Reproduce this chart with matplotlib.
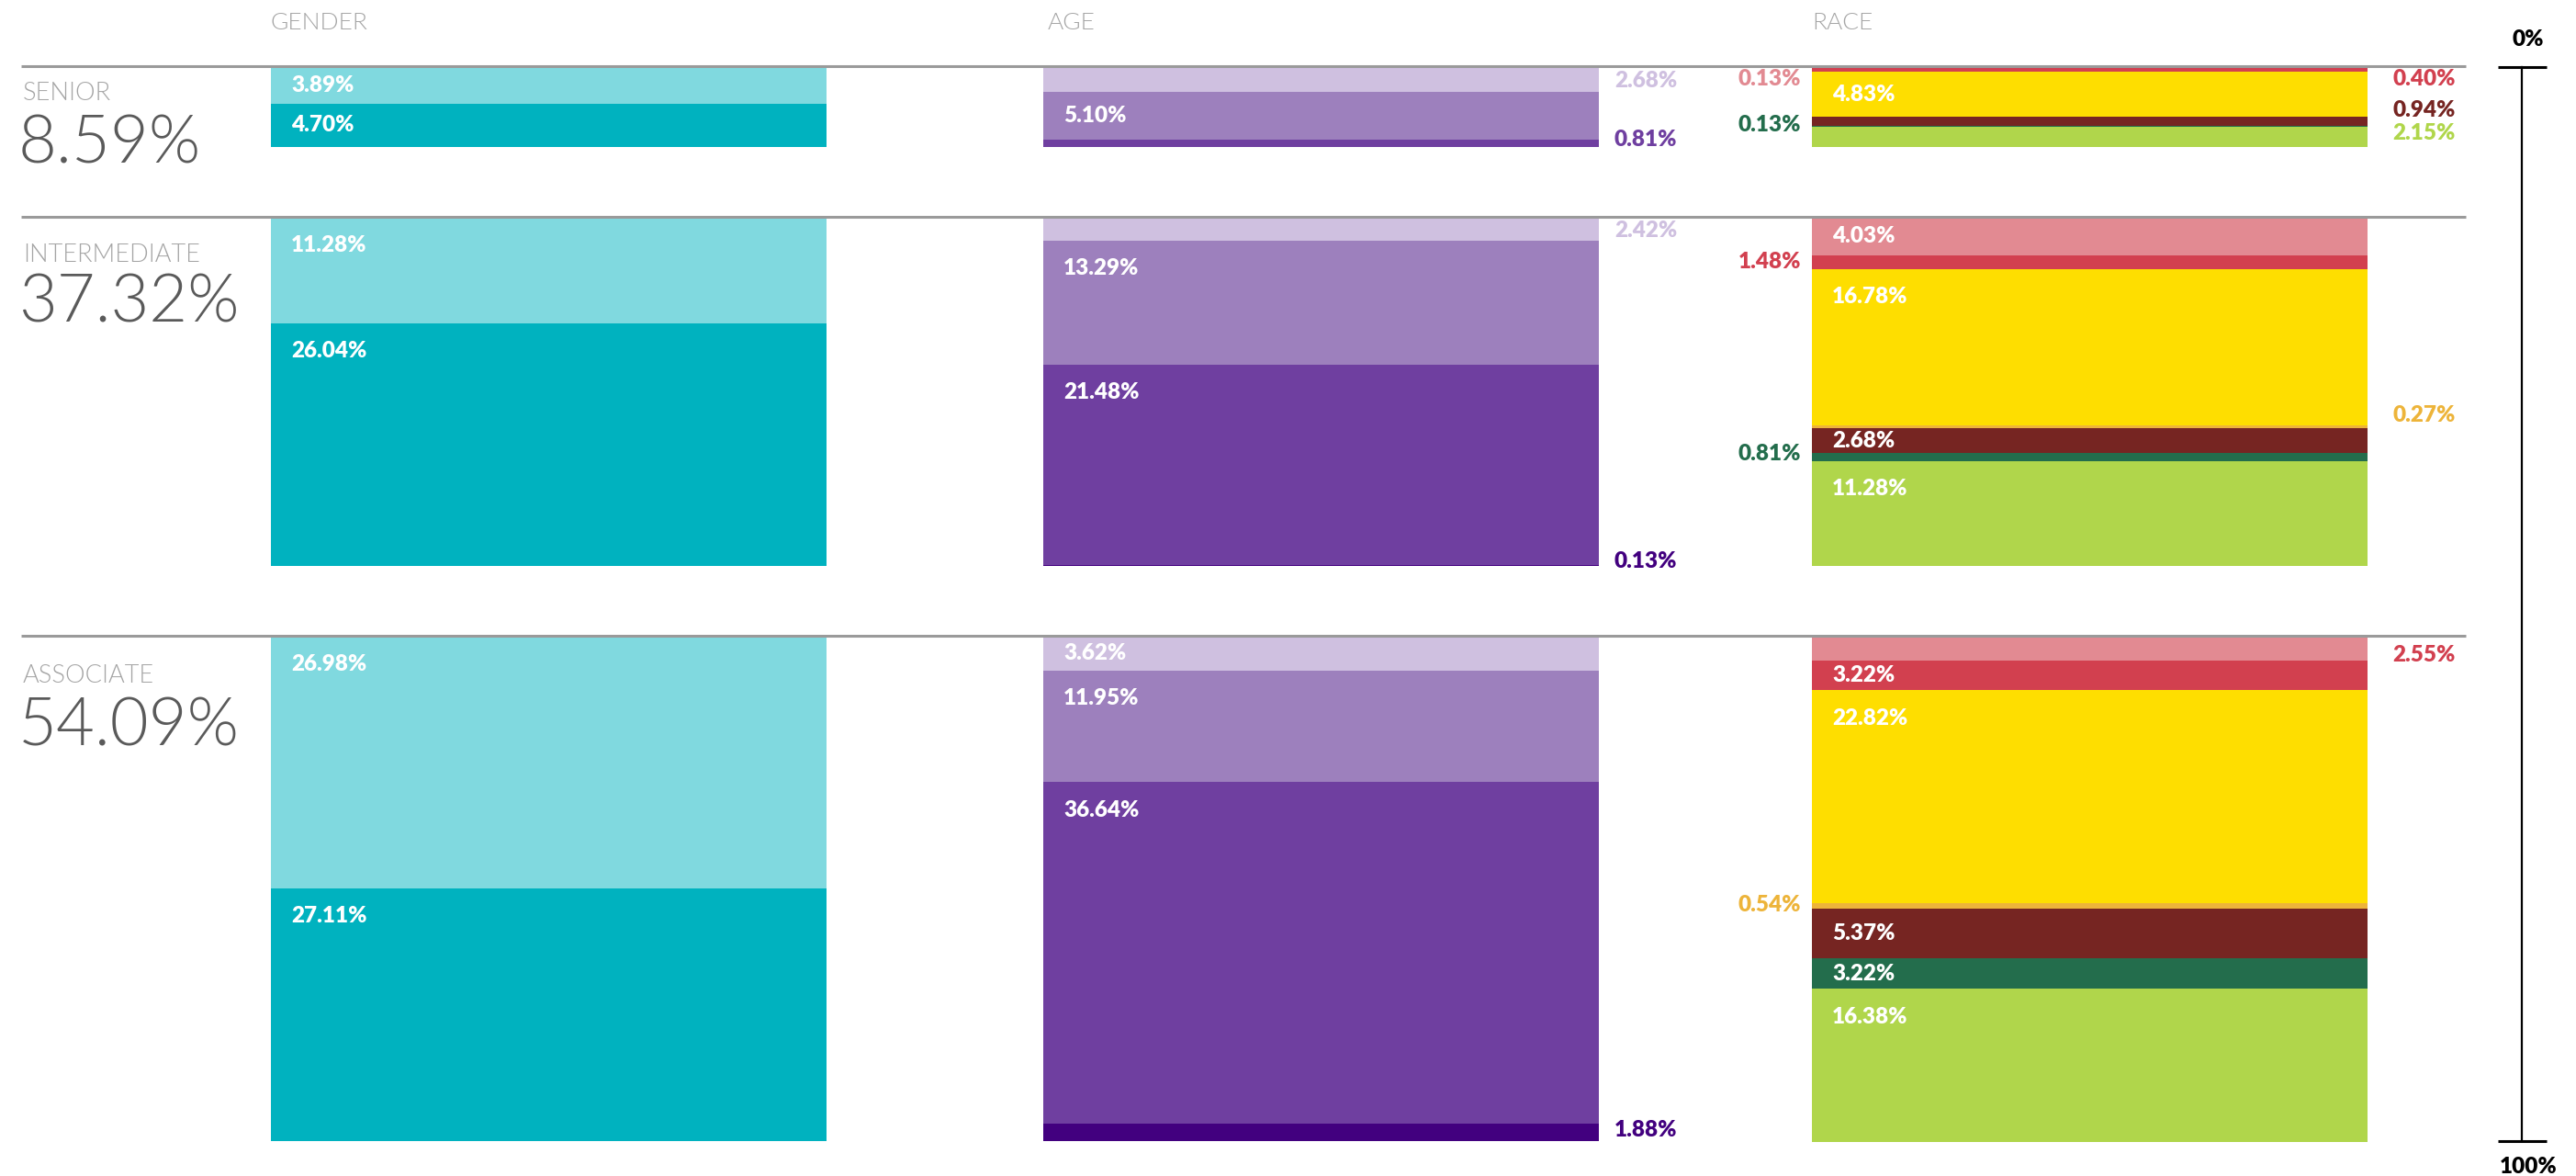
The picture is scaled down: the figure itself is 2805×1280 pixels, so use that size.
import matplotlib.pyplot as plt
from matplotlib import font_manager as fm

# data (% of all employees)
levels = ['SENIOR', 'INTERMEDIATE', 'ASSOCIATE']
level_totals = [8.59, 37.32, 54.09]

columns = ['GENDER', 'AGE', 'RACE']

gender_values = [[3.89, 4.70],
                 [11.28, 26.04],
                 [26.98, 27.11]]
age_values = [[2.68, 5.10, 0.81, 0.00],
              [2.42, 13.29, 21.48, 0.13],
              [3.62, 11.95, 36.64, 1.88]]
race_values = [[0.13, 0.40, 4.83, 0.00, 0.94, 0.13, 2.15],
               [4.03, 1.48, 16.78, 0.27, 2.68, 0.81, 11.28],
               [2.55, 3.22, 22.82, 0.54, 5.37, 3.22, 16.38]]

gender_colors = ['#80d9df', '#00b2bf']
age_colors = ['#cfc0e0', '#9d80bd', '#6f3fa0', '#42007f']
race_colors = ['#e28a92', '#d2404f', '#fede00', '#edb43a', '#762522', '#236d4c', '#b0d64b']

# where each value label goes: in = white inside, left/right = coloured outside
gender_place = [['in', 'in'], ['in', 'in'], ['in', 'in']]
age_place = [['right', 'in', 'right', None],
             ['right', 'in', 'in', 'right'],
             ['in', 'in', 'in', 'right']]
race_place = [['left', 'right', 'in', None, 'right', 'left', 'right'],
              ['in', 'left', 'in', 'right', 'in', 'left', 'in'],
              ['right', 'in', 'in', 'left', 'in', 'in', 'in']]

# small vertical nudges (in % units) for outside labels
nudge = {(1, 0, 0): 0.15, (1, 0, 2): -0.4, (1, 1, 0): 0.2, (1, 1, 3): -0.45, (1, 2, 3): -0.3,
         (2, 0, 0): 1.2, (2, 0, 1): 0.95, (2, 0, 4): -1.2, (2, 0, 5): -0.15, (2, 0, 6): -0.4,
         (2, 1, 3): -1.3, (2, 1, 5): -0.35, (2, 2, 0): 0.75, (2, 2, 3): -0.15}
label_color_override = {(2, 2, 0): '#d2404f'}

# layout (pixels / % units)
W, H = 2805, 1280
PX_PER_PCT = 10.16
TOP_PX = 73
GAP = 7.55
BAR_LEFT = [295, 1136, 1973]
BAR_W = 605


def light_font():
    # a real 300-weight face (not a hairline one)
    for fam in ['Lato', 'Roboto', 'Open Sans', 'Inter', 'Noto Sans']:
        for f in fm.fontManager.ttflist:
            fname = f.fname.lower()
            if f.name == fam and f.weight == 300 and f.style == 'normal' \
                    and 'hairline' not in fname and 'thin' not in fname:
                return fm.FontProperties(fname=f.fname)
    return fm.FontProperties(family='DejaVu Sans')


plt.rcParams['font.family'] = ['Lato', 'DejaVu Sans']
LIGHT = light_font()
LBL = dict(fontsize=17.5, fontweight='heavy')

fig = plt.figure(figsize=(W / 100, H / 100), dpi=100)
ax = fig.add_axes([0, 0, 1, 1])
ax.set_xlim(0, W)
ax.set_ylim((H - TOP_PX) / PX_PER_PCT, -TOP_PX / PX_PER_PCT)
ax.axis('off')

# start of each level block
starts = []
s = 0
for t in level_totals:
    starts.append(s)
    s += t + GAP
total_span = starts[-1] + level_totals[-1]

all_values = [gender_values, age_values, race_values]
all_colors = [gender_colors, age_colors, race_colors]
all_place = [gender_place, age_place, race_place]

for c, name in enumerate(columns):
    ax.text(BAR_LEFT[c] + (5 if c == 1 else 0), -4.7, name, fontproperties=LIGHT, fontsize=19,
            color='#a5a5a5', ha='left', va='center')

name_off = [2.8, 3.95, 4.15]
big_off = [8.3, 9.2, 9.65]
for i, lev in enumerate(levels):
    y0 = starts[i]
    ax.plot([23, 2685], [y0 - 0.1, y0 - 0.1], color='#9a9a9a', lw=2.2, solid_capstyle='butt')
    ax.text(25, y0 + name_off[i], lev, fontproperties=LIGHT, fontsize=19.5, color='#a5a5a5',
            ha='left', va='center')
    ax.text(20, y0 + big_off[i], f'{level_totals[i]:.2f}%', fontproperties=LIGHT, fontsize=52,
            color='#5a5a5a', ha='left', va='center')

    for c in range(3):
        vals = all_values[c][i]
        cols = all_colors[c]
        bottom = y0
        for k, v in enumerate(vals):
            if v > 0:
                ax.bar(BAR_LEFT[c], v, bottom=bottom, width=BAR_W, align='edge',
                       color=cols[k], linewidth=0)
            place = all_place[c][i][k]
            label = f'{v:.2f}%'
            if place == 'in':
                ax.text(BAR_LEFT[c] + 22, bottom + min(v / 2, 3.0), label, color='white',
                        ha='left', va='center', **LBL)
            elif place is not None:
                yy = bottom + v / 2 + nudge.get((c, i, k), 0)
                col = label_color_override.get((c, i, k), cols[k])
                if place == 'right':
                    xx = BAR_LEFT[c] + BAR_W + (17 if c == 1 else 27)
                    ax.text(xx, yy, label, color=col, ha='left', va='center', **LBL)
                else:
                    ax.text(BAR_LEFT[c] - 12, yy, label, color=col, ha='right', va='center', **LBL)
            bottom += v

# 0% - 100% scale on the right
ax.plot([2746, 2746], [0, total_span], color='black', lw=1.6)
ax.plot([2720, 2773], [0, 0], color='black', lw=2.2, solid_capstyle='butt')
ax.plot([2720, 2773], [total_span, total_span], color='black', lw=2.2, solid_capstyle='butt')
ax.text(2753, -3.0, '0%', color='black', ha='center', va='center', **LBL)
ax.text(2753, total_span + 2.7, '100%', color='black', ha='center', va='center', **LBL)

fig.savefig('out.png', dpi=100, facecolor='white')
